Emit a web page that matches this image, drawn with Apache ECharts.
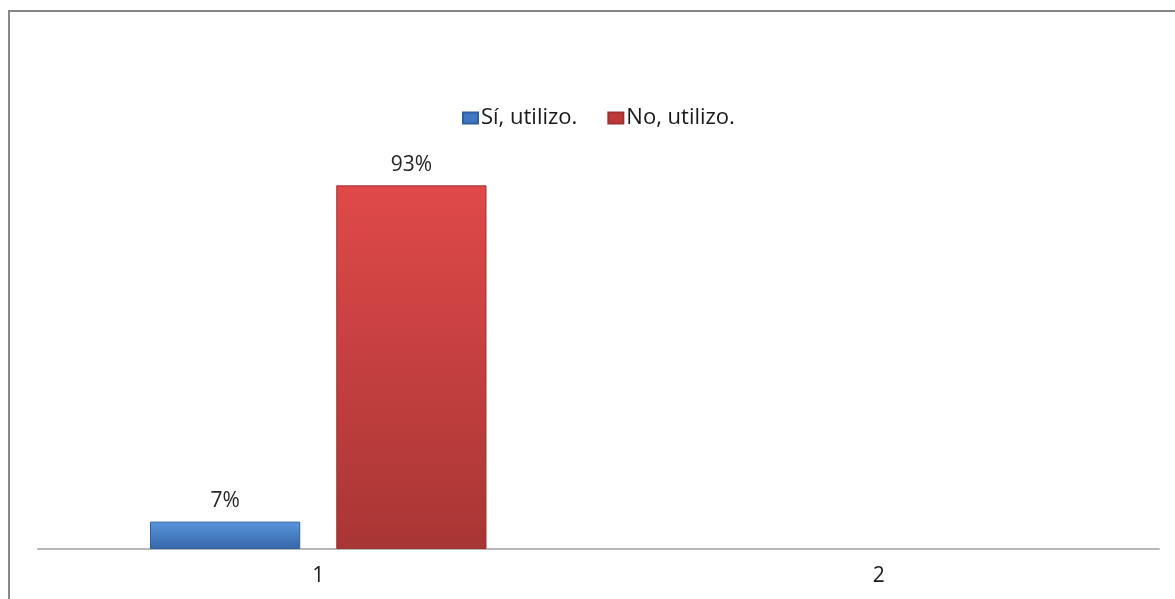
<!DOCTYPE html>
<html>
<head>
<meta charset="utf-8">
<script src="https://cdn.jsdelivr.net/npm/echarts@6/dist/echarts.min.js"></script>
<style>
  html, body { margin: 0; padding: 0; background: #fff; }
  #chart { width: 1175px; height: 599px; }
</style>
</head>
<body>
<div id="chart"></div>
<script>
// Survey answers per group, as shares of respondents
const categories = ['1', '2'];
const seriesNames = ['Sí, utilizo.', 'No, utilizo.'];
const siValues = [0.07, null];
const noValues = [0.93, null];

const FONT = '"Open Sans", "Noto Sans", sans-serif';

function pct(p) {
  return Math.round(p.value * 100) + '%';
}

function barGradient(top, bottom) {
  return new echarts.graphic.LinearGradient(0, 0, 0, 1, [
    { offset: 0, color: top },
    { offset: 1, color: bottom }
  ]);
}

const chart = echarts.init(document.getElementById('chart'), null, { renderer: 'canvas' });

chart.setOption({
  animation: false,
  backgroundColor: '#ffffff',
  graphic: [{
    type: 'rect',
    shape: { x: 9, y: 11, width: 1200, height: 700 },
    style: { fill: 'none', stroke: '#878787', lineWidth: 2 },
    silent: true
  }],
  legend: {
    data: [
      { name: seriesNames[0], itemStyle: { color: '#3f78c0' } },
      { name: seriesNames[1], itemStyle: { color: '#c0393a' } }
    ],
    top: 102,
    left: 457,
    icon: 'rect',
    itemWidth: 15,
    itemHeight: 11,
    itemGap: 30,
    textStyle: { fontFamily: FONT, fontSize: 22, color: '#1a1a1a', padding: [0, 0, 0, -2] }
  },
  grid: { left: 38, right: 16, top: 158, bottom: 50, containLabel: false },
  xAxis: {
    type: 'category',
    data: categories,
    axisLine: { lineStyle: { color: '#b8b8b8', width: 2 } },
    axisTick: { show: false },
    axisLabel: { fontFamily: FONT, fontSize: 21, color: '#1a1a1a', margin: 17 }
  },
  yAxis: {
    type: 'value',
    min: 0,
    max: 1,
    show: false,
    splitLine: { show: false }
  },
  series: [
    {
      name: seriesNames[0],
      type: 'bar',
      data: siValues,
      barWidth: '26.8%',
      barGap: '24%',
      itemStyle: {
        color: barGradient('#5a96dc', '#3566a8'),
        borderColor: '#2f5f9e',
        borderWidth: 1
      },
      label: {
        show: true,
        position: 'top',
        distance: 10,
        formatter: pct,
        fontFamily: FONT,
        fontSize: 21,
        color: '#262626'
      }
    },
    {
      name: seriesNames[1],
      type: 'bar',
      data: noValues,
      barWidth: '26.8%',
      itemStyle: {
        color: barGradient('#e0494a', '#a83634'),
        borderColor: '#9c3130',
        borderWidth: 1
      },
      label: {
        show: true,
        position: 'top',
        distance: 10,
        formatter: pct,
        fontFamily: FONT,
        fontSize: 21,
        color: '#262626'
      }
    }
  ]
});
</script>
</body>
</html>
